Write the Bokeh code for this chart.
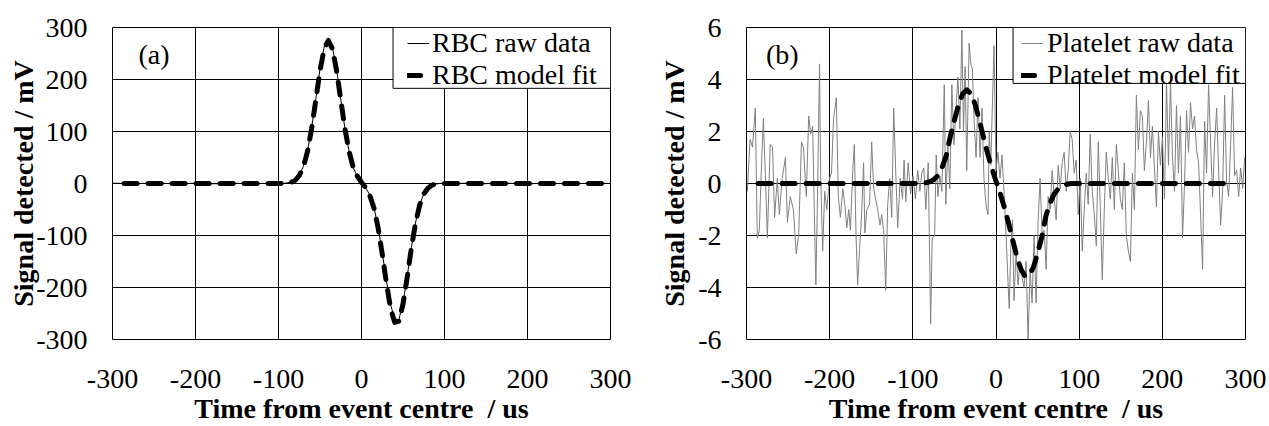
from bokeh.plotting import figure
from bokeh.layouts import row
from bokeh.models import (Range1d, FixedTicker, Legend, LegendItem, Label, BoxAnnotation,
                          CustomJSTickFormatter, Title)
from bokeh.embed import file_html
from bokeh.resources import INLINE

# ---------------- data ----------------
x_ticks = [-300, -200, -100, 0, 100, 200, 300]
rbc_y_ticks = [-300, -200, -100, 0, 100, 200, 300]
plt_y_ticks = [-6, -4, -2, 0, 2, 4, 6]
x_title = "Time from event centre\u00a0 / us"
y_title = "Signal detected / mV"

rbc_raw_time = [-300, -275, -250, -225, -200, -175, -150, -125,
                -100, -95, -90, -85, -80, -75, -70, -65, -60, -55, -50, -45, -40,
                -35, -30, -25, -20, -15, -10, -5, 0, 5, 10, 15, 20, 25, 30, 35, 40,
                45, 50, 55, 60, 65, 70, 75, 80, 85, 90, 95, 100,
                125, 150, 175, 200, 225, 250, 275, 300]
rbc_raw_mv = [0.6, -0.4, 0.5, -0.3, 0.4, -0.5, 0.3, -0.2,
              0.5, 0.3, 1, 3, 7, 16, 33, 63, 108, 163, 220, 263, 280,
              262, 219, 162, 106, 62, 31, 13, 1, -8, -22, -46, -83, -133, -186, -233, -260,
              -262, -229, -179, -124, -76, -41, -20, -9, -3, -1, 0.3, -0.2,
              0.4, -0.3, 0.5, -0.4, 0.3, -0.5, 0.4, 0.2]

rbc_fit_time = [-286, -100, -95, -90, -85, -80, -75, -70, -65, -60, -55, -50, -45, -40,
                -35, -30, -25, -20, -15, -10, -5, 0, 5, 10, 15, 20, 25, 30, 35, 40,
                45, 50, 55, 60, 65, 70, 75, 80, 85, 90, 95, 100, 290]
rbc_fit_mv = [0, 0, 0.2, 0.7, 2, 6, 15, 32, 62, 106, 161, 217, 259, 275,
              259, 217, 161, 106, 62, 31, 14, 2, -8, -23, -47, -85, -136, -191, -240, -267,
              -265, -232, -181, -125, -77, -42, -20, -9, -3, -1, 0, 0, 0]

plt_raw_time = [
    -299.0, -295.7, -292.8, -289.4, -287.0, -284.6, -282.2, -279.7, -277.3, -274.9,
    -271.5, -268.7, -266.2, -262.9, -260.5, -257.1, -253.2, -250.8, -247.4, -243.6,
    -240.2, -237.3, -233.9, -231.5, -228.1, -225.2, -222.8, -220.4, -218.5, -216.6,
    -214.6, -212.2, -210.8, -208.4, -206.0, -203.5, -200.2, -197.8, -195.3, -192.0,
    -189.6, -187.1, -184.2, -181.8, -179.4, -177.0, -175.1, -172.2, -170.3, -168.3,
    -166.4, -164.0, -161.6, -159.2, -157.7, -155.3, -152.0, -149.5, -147.1, -144.7,
    -142.3, -139.4, -137.5, -135.1, -132.6, -130.2, -127.8, -125.4, -123.0, -120.6,
    -118.2, -115.3, -112.4, -110.5, -108.5, -105.6, -102.7, -99.8, -96.9, -94.1,
    -91.6, -89.2, -86.8, -84.4, -81.5, -78.6, -76.7, -73.8, -71.9, -69.9,
    -67.5, -65.1, -62.2, -60.3, -57.9, -55.5, -53.1, -50.6, -48.2, -45.8,
    -43.4, -41.0, -39.1, -37.1, -35.2, -32.3, -30.3, -28.4, -26.4, -24.0,
    -21.6, -19.2, -16.8, -14.5, -12.1, -9.6, -8.2, -6.3, -2.4, 0.0,
    2.4, 4.8, 7.2, 9.6, 12.1, 14.5, 15.9, 17.8, 19.8, 21.7,
    24.1, 26.5, 28.9, 31.3, 33.7, 36.2, 38.6, 41.0, 43.4, 45.8,
    48.2, 50.6, 53.0, 55.5, 57.9, 60.3, 62.7, 65.1, 67.5, 69.9,
    72.3, 74.8, 77.2, 79.6, 82.0, 84.4, 86.8, 89.2, 91.6, 94.0,
    96.5, 98.9, 101.3, 103.7, 106.1, 108.5, 110.9, 113.3, 115.7, 118.2,
    120.6, 123.0, 125.4, 127.8, 130.2, 132.6, 135.0, 137.5, 139.9, 142.3,
    144.7, 147.1, 149.5, 151.9, 154.3, 156.7, 159.2, 161.6, 164.0, 166.4,
    168.8, 171.2, 173.6, 176.0, 178.4, 180.9, 183.3, 185.7, 188.1, 190.5,
    192.9, 195.3, 197.7, 200.1, 202.6, 205.0, 207.4, 209.8, 212.2, 214.6,
    217.0, 219.4, 221.8, 224.3, 226.7, 229.1, 231.5, 233.9, 236.3, 238.7,
    241.1, 243.6, 246.0, 248.4, 250.8, 253.2, 255.6, 258.0, 260.4, 262.8,
    265.3, 267.7, 270.1, 272.5, 274.9, 277.3, 279.7, 282.1, 284.5, 286.9,
    289.4, 291.8, 294.2, 296.6, 299.0]
plt_raw_mv = [
    -0.3, 1.7, 1.4, 2.9, -2.1, -1.8, 0.5, 2.5, 0.3, -2.1,
    1.5, 1.4, -1.3, 0.2, -1.2, 0.2, 1.0, -1.5, -0.5, -1.0,
    -2.7, -2.0, 1.6, 1.4, -0.5, 2.6, 1.9, 2.2, -1.0, -3.9,
    -0.5, 4.6, 0.3, -2.6, -0.3, -1.0, 0.2, 0.4, 2.5, 3.3,
    -0.5, -1.3, -0.2, -0.8, -1.7, -1.0, -1.8, 0.5, 1.5, -2.0,
    -3.9, -2.5, -1.2, 0.8, -1.9, -1.0, -0.8, 1.6, -0.2, -0.6,
    -1.0, -1.6, -1.2, -1.8, -4.1, -0.8, 0.2, -1.3, 2.9, 0.5,
    -1.7, 0.2, -0.6, 0.9, -0.7, 0.8, -0.4, 0.3, -0.6, 0.5,
    -0.3, 0.4, 0.6, -1.0, 0.8, -5.4, -2.1, -2.0, 1.1, -0.5,
    0.3, -0.3, 3.8, -0.8, 1.5, -0.2, 3.8, 1.5, 2.8, 4.1,
    2.1, 5.9, 2.0, 4.5, 0.5, 5.4, 4.6, 4.4, 2.5, 1.0,
    3.3, 1.0, 2.9, 0.2, -0.8, -1.2, 2.0, 0.7, 5.3, 0.5,
    1.2, 0.2, 1.1, -0.3, -2.0, -3.8, -4.8, -2.5, -1.4, -4.5,
    -2.6, -3.9, -3.0, -3.6, -4.0, -3.0, -6.0, -3.3, -4.6, -2.0,
    -4.6, -1.5, 0.2, -2.0, -1.8, -3.3, -0.5, -1.0, 0.5, -0.5,
    -1.4, 0.7, -0.2, 0.8, 1.2, -0.3, 0.5, 2.0, 1.7, 0.4,
    0.9, -1.2, 0.2, -2.6, -1.0, 0.4, -0.8, 1.9, -0.3, -1.2,
    -2.4, 1.6, -0.9, -3.7, -1.0, 1.2, 0.2, -0.6, 1.0, -1.0,
    1.5, 0.5, -0.6, -1.0, 0.8, -2.0, -2.6, -3.0, 0.4, -1.0,
    3.4, 1.3, 2.8, 2.6, 0.5, 1.6, 3.2, 1.0, 2.2, 0.6,
    -0.9, 2.0, 0.7, 1.8, -0.6, 3.9, 0.7, 3.9, 1.0, -0.3,
    3.0, 0.4, 2.6, -2.1, 0.0, 2.8, 1.2, 3.1, 2.1, 2.6,
    1.3, 0.8, -1.2, -3.3, 2.4, 0.4, 3.8, 1.6, -0.5, 1.5,
    2.9, 0.5, -1.6, -0.3, 3.4, 0.1, -0.5, 1.5, 3.7, 0.3,
    0.5, -0.5, 0.6, -0.2, 1.0]

plt_fit_time = [-286, -95, -90, -85, -80, -75, -70, -65, -60, -55, -50, -45, -40,
                -35, -30, -25, -20, -15, -10, -5, 0, 5, 10, 15, 20, 25, 30, 35, 40,
                45, 50, 55, 60, 65, 70, 75, 80, 85, 90, 95, 283]
plt_fit_mv = [0, 0, 0, 0.02, 0.06, 0.15, 0.3, 0.6, 1.05, 1.8, 2.44, 3.03, 3.45,
              3.6, 3.45, 3.03, 2.43, 1.77, 1.14, 0.59, 0.09, -0.38, -0.91, -1.51, -2.16, -2.8, -3.3, -3.57, -3.54,
              -3.22, -2.69, -2.06, -1.25, -0.75, -0.4, -0.2, -0.08, -0.03, 0, 0, 0]

FONT = "Liberation Serif"
FS = "28px"
FMT = "return tick.toFixed(0);"


def style(p, yticks, ylabel_standoff, xlab_standoff, title_standoff):
    p.background_fill_color = "white"
    p.border_fill_color = "white"
    p.outline_line_color = "black"
    p.outline_line_width = 1
    p.outline_line_alpha = 1
    p.xaxis.ticker = FixedTicker(ticks=x_ticks)
    p.yaxis.ticker = FixedTicker(ticks=yticks)
    for ax in p.axis:
        ax.formatter = CustomJSTickFormatter(code=FMT)
        ax.axis_line_color = None
        ax.major_tick_line_color = None
        ax.minor_tick_line_color = None
        ax.major_tick_in = 0
        ax.major_tick_out = 0
        ax.minor_tick_in = 0
        ax.minor_tick_out = 0
        ax.major_label_text_font = FONT
        ax.major_label_text_font_size = FS
        ax.major_label_text_color = "black"
        ax.axis_label_text_font = FONT
        ax.axis_label_text_font_size = FS
        ax.axis_label_text_font_style = "bold"
        ax.axis_label_text_color = "black"
    p.xaxis.major_label_standoff = xlab_standoff
    p.yaxis.major_label_standoff = 25
    p.yaxis.axis_label = y_title
    p.yaxis.axis_label_standoff = ylabel_standoff
    for g in p.grid:
        g.grid_line_color = "black"
        g.grid_line_alpha = 1
        g.grid_line_width = 1
    p.add_layout(Title(text=x_title, align="center", text_font=FONT, text_font_size=FS,
                       text_font_style="bold", text_color="black", standoff=title_standoff,
                       background_fill_color=None), "below")


# ---------------- panel (a) ----------------
p1 = figure(width=640, height=426, x_range=Range1d(-300, 300), y_range=Range1d(-300, 300),
            output_backend="svg", toolbar_location=None,
            min_border_left=112, min_border_right=30, min_border_top=27, min_border_bottom=87)
style(p1, rbc_y_ticks, -6, 30, 0)
r1 = p1.line(rbc_raw_time, rbc_raw_mv, line_color="black", line_width=1)
f1 = p1.line(rbc_fit_time, rbc_fit_mv, line_color="black", line_width=5,
             line_dash="13 11", line_cap="round", line_join="round")
p1.add_layout(Label(x=-250, y=249, text="(a)", text_font=FONT, text_font_size=FS,
                    text_align="center", text_baseline="middle", text_color="black"))
p1.add_layout(BoxAnnotation(left=38, right=300, top=300, bottom=183, fill_color="white",
                            fill_alpha=1, line_color="black", line_width=1, line_alpha=1))
leg1 = Legend(items=[LegendItem(label="RBC raw data", renderers=[r1]),
                     LegendItem(label="RBC model fit", renderers=[f1])],
              location="top_right", margin=0, padding=0, spacing=0,
              glyph_width=22, glyph_height=26, label_height=26, label_width=178,
              label_standoff=3, label_text_font=FONT, label_text_font_size=FS,
              label_text_color="black", border_line_color=None, background_fill_alpha=0)
p1.add_layout(leg1)

# ---------------- panel (b) ----------------
p2 = figure(width=629, height=426, x_range=Range1d(-300, 300), y_range=Range1d(-6, 6),
            output_backend="svg", toolbar_location=None,
            min_border_left=106, min_border_right=24, min_border_top=27, min_border_bottom=83)
style(p2, plt_y_ticks, 5, 30, 0)
r2 = p2.line(plt_raw_time, plt_raw_mv, line_color="#808080", line_width=1)
f2 = p2.line(plt_fit_time, plt_fit_mv, line_color="black", line_width=5,
             line_dash="13 11", line_cap="round", line_join="round")
p2.add_layout(Label(x=-257, y=4.98, text="(b)", text_font=FONT, text_font_size=FS,
                    text_align="center", text_baseline="middle", text_color="black"))
p2.add_layout(BoxAnnotation(left=20.5, right=300, top=6, bottom=3.85, fill_color="white",
                            fill_alpha=1, line_color="black", line_width=1, line_alpha=1))
leg2 = Legend(items=[LegendItem(label="Platelet raw data", renderers=[r2]),
                     LegendItem(label="Platelet model fit", renderers=[f2])],
              location="top_right", margin=0, padding=0, spacing=0,
              glyph_width=22, glyph_height=24, label_height=24, label_width=198,
              label_standoff=4, label_text_font=FONT, label_text_font_size=FS,
              label_text_color="black", border_line_color=None, background_fill_alpha=0)
p2.add_layout(leg2)

layout = row(p1, p2)
open("out.html", "w").write(file_html(layout, INLINE))
